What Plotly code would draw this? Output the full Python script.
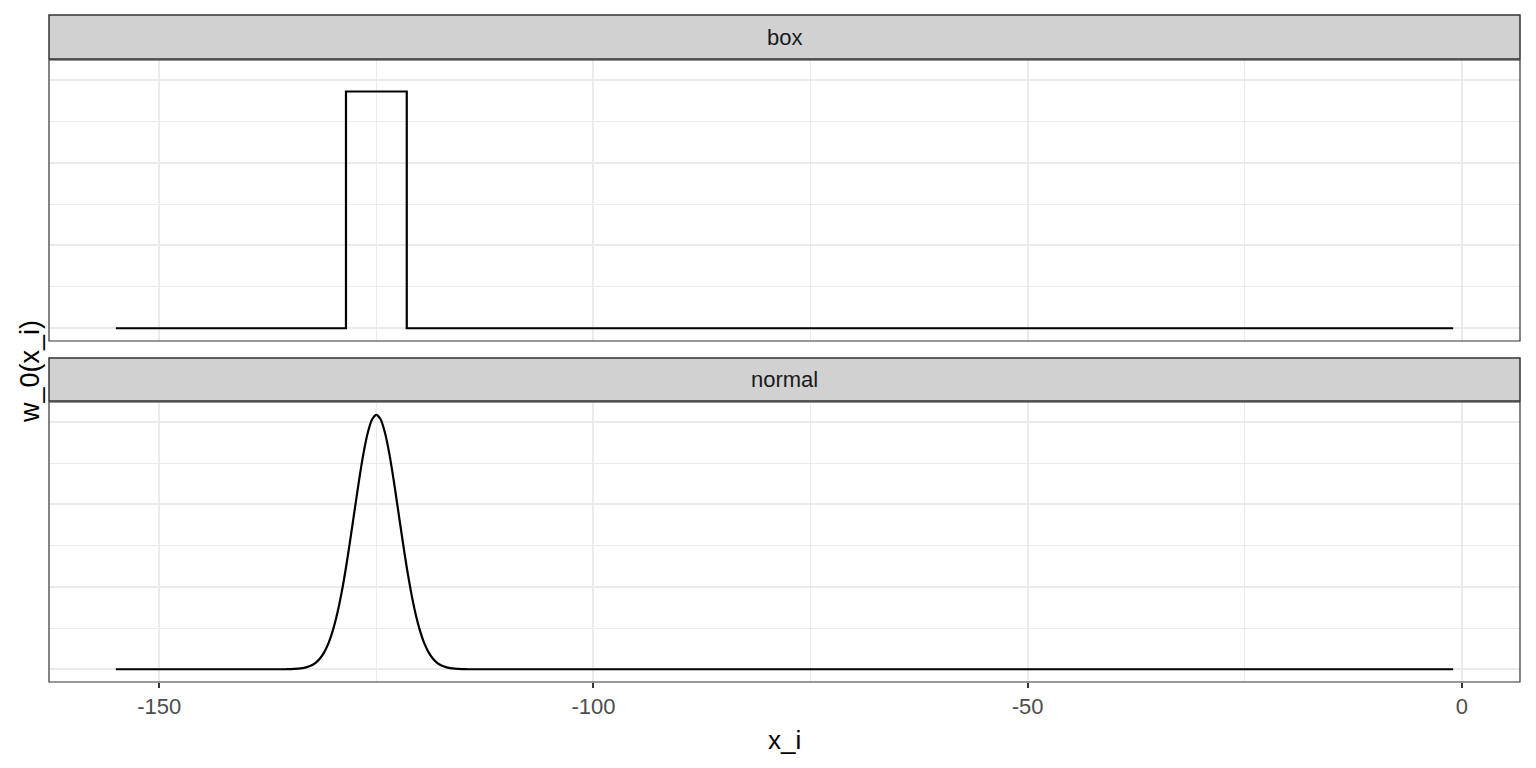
import plotly.graph_objects as go

# ---- data ----
box_x = [-155, -128.5, -128.5, -121.5, -121.5, -1]
box_y = [0, 0, 0.143, 0.143, 0, 0]

normal_x = [-155, -136, -135.5, -135, -134.5, -134, -133.5, -133, -132.5, -132, -131.5, -131,
            -130.5, -130, -129.5, -129, -128.5, -128, -127.5, -127, -126.5, -126, -125.5, -125,
            -124.5, -124, -123.5, -123, -122.5, -122, -121.5, -121, -120.5, -120, -119.5, -119,
            -118.5, -118, -117.5, -117, -116.5, -116, -115.5, -115, -114.5, -114, -1]
normal_y = [0, 0, 0.00001, 0.00006, 0.0002, 0.00036, 0.0007, 0.0013, 0.0023, 0.0039, 0.0065, 0.0104,
            0.0160, 0.0237, 0.0339, 0.0466, 0.0617, 0.0787, 0.0966, 0.1144, 0.1304, 0.1432, 0.1514, 0.1543,
            0.1514, 0.1432, 0.1304, 0.1144, 0.0966, 0.0787, 0.0617, 0.0466, 0.0339, 0.0237, 0.0160, 0.0104,
            0.0065, 0.0039, 0.0023, 0.0013, 0.0007, 0.00036, 0.0002, 0.00006, 0.00001, 0, 0]

panels = ["box", "normal"]
x_tickvals = [-150, -100, -50, 0]
x_ticktext = ["-150", "-100", "-50", "0"]
y_tickvals = [0, 0.05, 0.1, 0.15]

# page is offset by the default body margin (8px), so work in page px and shift
OFF = 8
W, H = 1536 - 2 * OFF, 768 - 2 * OFF
FONT = "Liberation Sans, Arial, Helvetica, sans-serif"

def px_x(p):
    return (p - OFF) / W

def px_y(p):
    return (H - (p - OFF)) / H

left, right = 49, 1520
panel_px = [(60, 341), (402, 682)]
strip_px = [(15, 59), (358, 401)]

xmin, xmax = min(box_x + normal_x), max(box_x + normal_x)
xpad = 0.05 * (xmax - xmin)
ymax = max(box_y + normal_y)
ypad = 0.05 * ymax

fig = go.Figure()
fig.add_trace(go.Scatter(x=box_x, y=box_y, mode="lines", line=dict(color="black", width=2.2),
                         xaxis="x", yaxis="y", showlegend=False, hoverinfo="skip"))
fig.add_trace(go.Scatter(x=normal_x, y=normal_y, mode="lines",
                         line=dict(color="black", width=2.2, shape="spline", smoothing=0.6),
                         xaxis="x2", yaxis="y2", showlegend=False, hoverinfo="skip"))

grid_major = "#EBEBEB"
common_x = dict(range=[xmin - xpad, xmax + xpad], domain=[px_x(left), px_x(right)],
                tickvals=x_tickvals, ticktext=x_ticktext, showgrid=True, gridcolor=grid_major,
                gridwidth=2, zeroline=False, showline=False,
                minor=dict(dtick=25, showgrid=True, gridcolor=grid_major, gridwidth=1, tick0=-175))
common_y = dict(range=[-ypad, ymax + ypad], tickvals=y_tickvals, showticklabels=False,
                showgrid=True, gridcolor=grid_major, gridwidth=2, zeroline=False, showline=False,
                ticks="", minor=dict(dtick=0.025, tick0=0, showgrid=True, gridcolor=grid_major, gridwidth=1))

fig.update_layout(
    width=W, height=H,
    margin=dict(l=0, r=0, t=0, b=0),
    paper_bgcolor="white", plot_bgcolor="white",
    font=dict(family=FONT),
    xaxis=dict(**common_x, anchor="y", showticklabels=False, ticks=""),
    yaxis=dict(**common_y, anchor="x", domain=[px_y(panel_px[0][1]), px_y(panel_px[0][0])]),
    xaxis2=dict(**common_x, anchor="y2", matches="x", showticklabels=True, ticks="outside",
                ticklen=5, tickwidth=2, tickcolor="#333333",
                tickfont=dict(size=22, color="#4D4D4D", family=FONT)),
    yaxis2=dict(**common_y, anchor="x2", domain=[px_y(panel_px[1][1]), px_y(panel_px[1][0])]),
)

shapes = []
annotations = []
for i, name in enumerate(panels):
    s0, s1 = strip_px[i]
    p0, p1 = panel_px[i]
    shapes.append(dict(type="rect", xref="paper", yref="paper",
                       x0=px_x(left), x1=px_x(right), y0=px_y(s1), y1=px_y(s0),
                       fillcolor="#D1D1D1", line=dict(color="#333333", width=1.5), layer="above"))
    shapes.append(dict(type="rect", xref="paper", yref="paper",
                       x0=px_x(left), x1=px_x(right), y0=px_y(p1), y1=px_y(p0),
                       fillcolor="rgba(0,0,0,0)", line=dict(color="#333333", width=1.2), layer="above"))
    annotations.append(dict(text=name, xref="paper", yref="paper",
                            x=(px_x(left) + px_x(right)) / 2, y=(px_y(s0) + px_y(s1)) / 2,
                            showarrow=False, xanchor="center", yanchor="middle",
                            font=dict(size=22, color="#1A1A1A", family=FONT)))

annotations.append(dict(text="x_i", xref="paper", yref="paper", x=(px_x(left) + px_x(right)) / 2,
                        y=px_y(740), showarrow=False, xanchor="center", yanchor="middle",
                        font=dict(size=26, color="black", family=FONT)))
annotations.append(dict(text="w_0(x_i)", xref="paper", yref="paper", x=px_x(30),
                        y=px_y(372), showarrow=False, xanchor="center", yanchor="middle",
                        textangle=-90, font=dict(size=27, color="black", family=FONT)))

fig.update_layout(shapes=shapes, annotations=annotations)
fig.write_html("out.html")
